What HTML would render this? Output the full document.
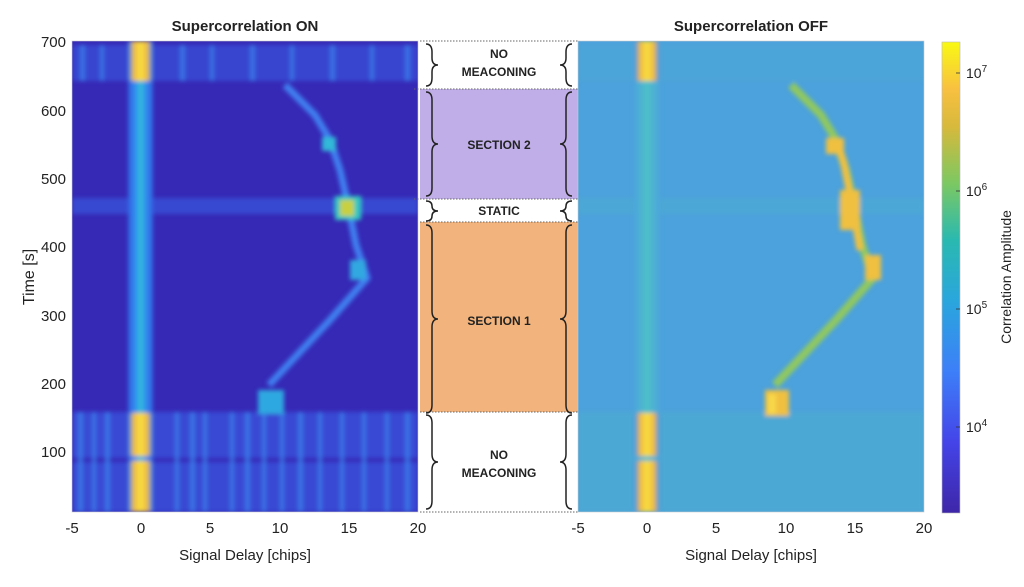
<!DOCTYPE html>
<html><head><meta charset="utf-8"><style>
html,body{margin:0;padding:0;background:#fff;}
body{width:1024px;height:582px;overflow:hidden;font-family:"Liberation Sans",sans-serif;}
</style></head><body>
<svg width="1024" height="582" viewBox="0 0 1024 582" xmlns="http://www.w3.org/2000/svg">
<defs>
<filter id="b" x="-10%" y="-10%" width="120%" height="120%"><feGaussianBlur stdDeviation="2.2"/></filter>
<linearGradient id="par" x1="0" y1="1" x2="0" y2="0">
<stop offset="0" stop-color="#3e26a8"/><stop offset="0.15" stop-color="#4444e8"/><stop offset="0.3" stop-color="#3d7ff8"/>
<stop offset="0.45" stop-color="#2aa6dd"/><stop offset="0.58" stop-color="#2ab9b0"/><stop offset="0.7" stop-color="#7cc862"/>
<stop offset="0.82" stop-color="#d7b93c"/><stop offset="0.9" stop-color="#f8c040"/><stop offset="1" stop-color="#f9f914"/>
</linearGradient>
<linearGradient id="colY" x1="0" y1="0" x2="1" y2="0">
<stop offset="0" stop-color="#3f8ff0"/><stop offset="0.2" stop-color="#f0b840"/><stop offset="0.5" stop-color="#f8e040"/><stop offset="0.8" stop-color="#f0b840"/><stop offset="1" stop-color="#3f8ff0"/>
</linearGradient>
<linearGradient id="colB" x1="0" y1="0" x2="1" y2="0">
<stop offset="0" stop-color="#3560e0"/><stop offset="0.3" stop-color="#2f8ff0"/><stop offset="0.5" stop-color="#30c0d8"/><stop offset="0.7" stop-color="#2f8ff0"/><stop offset="1" stop-color="#3560e0"/>
</linearGradient>
<linearGradient id="colBR" x1="0" y1="0" x2="1" y2="0">
<stop offset="0" stop-color="#4ca4dc"/><stop offset="0.5" stop-color="#4ec0c8"/><stop offset="1" stop-color="#4ca4dc"/>
</linearGradient>
<clipPath id="cl"><rect x="72" y="41" width="346" height="471"/></clipPath>
<clipPath id="cr"><rect x="578" y="41" width="346" height="471"/></clipPath>
</defs>

<g clip-path="url(#cl)">
<rect x="72" y="41" width="346" height="471" fill="#3629b6"/>
<g filter="url(#b)">
<rect x="72" y="45" width="346" height="36" fill="#3a4cd6" opacity="0.8"/>
<rect x="72" y="412" width="346" height="46" fill="#3a50d8" opacity="0.85"/>
<rect x="72" y="462" width="346" height="50" fill="#3a50d8" opacity="0.85"/>
<rect x="72" y="198" width="346" height="16" fill="#3a52d8" opacity="0.8"/>
<g fill="#3a86f0" opacity="0.7">
<rect x="78" y="412" width="5" height="100"/><rect x="92" y="412" width="4" height="100"/><rect x="105" y="412" width="5" height="100"/>
<rect x="175" y="412" width="4" height="100"/><rect x="190" y="412" width="5" height="100"/><rect x="203" y="412" width="4" height="100"/>
<rect x="230" y="412" width="4" height="100"/><rect x="245" y="412" width="5" height="100"/><rect x="262" y="412" width="4" height="100"/>
<rect x="280" y="412" width="4" height="100"/><rect x="298" y="412" width="5" height="100"/><rect x="318" y="412" width="4" height="100"/>
<rect x="340" y="412" width="4" height="100"/><rect x="362" y="412" width="4" height="100"/><rect x="385" y="412" width="4" height="100"/><rect x="405" y="412" width="5" height="100"/>
<rect x="80" y="45" width="5" height="36"/><rect x="100" y="45" width="4" height="36"/><rect x="180" y="45" width="5" height="36"/>
<rect x="210" y="45" width="4" height="36"/><rect x="250" y="45" width="5" height="36"/><rect x="290" y="45" width="4" height="36"/>
<rect x="330" y="45" width="5" height="36"/><rect x="370" y="45" width="4" height="36"/><rect x="405" y="45" width="5" height="36"/>
</g>
<rect x="128" y="41" width="25" height="471" fill="url(#colB)"/>
<rect x="129" y="41" width="23" height="40" fill="url(#colY)"/>
<rect x="129" y="413" width="23" height="43" fill="url(#colY)"/>
<rect x="129" y="461" width="23" height="51" fill="url(#colY)"/>
<polyline points="269,385 330,320 367,278 356,245 348,205 340,170 330,140 315,115 295,95 285,85" fill="none" stroke="#3f7ff0" stroke-width="7"/>
<rect x="335" y="196" width="26" height="24" fill="#30c8c0"/>
<rect x="340" y="200" width="14" height="16" fill="#c8d040"/>
<rect x="322" y="137" width="14" height="14" fill="#30b8d8"/>
<rect x="258" y="390" width="26" height="24" fill="#2ea8e0"/>
<rect x="350" y="260" width="16" height="20" fill="#30a8e0"/>
</g>
</g>
<rect x="72" y="41" width="346" height="471" fill="none" stroke="#ccc" stroke-width="0.6"/>

<rect x="420" y="89" width="158" height="110" fill="#c0aee8"/>
<rect x="420" y="222" width="158" height="190" fill="#f2b47c"/>
<g stroke="#666" stroke-width="1" stroke-dasharray="1.5,1.5">
<line x1="420" y1="41" x2="578" y2="41"/><line x1="414" y1="89" x2="578" y2="89"/>
<line x1="414" y1="199" x2="578" y2="199"/><line x1="420" y1="222" x2="582" y2="222"/>
<line x1="420" y1="412" x2="578" y2="412"/><line x1="420" y1="512" x2="578" y2="512"/>
</g>
<g fill="none" stroke="#222" stroke-width="1.5">
<path d="M426,44 q6,0 6,8 v6 q0,7 6,7 q-6,0 -6,7 v6 q0,8 -6,8"/>
<path d="M572,44 q-6,0 -6,8 v6 q0,7 -6,7 q6,0 6,7 v6 q0,8 6,8"/>
<path d="M426,92 q6,0 6,8 v36 q0,8 6,8 q-6,0 -6,8 v36 q0,8 -6,8"/>
<path d="M572,92 q-6,0 -6,8 v36 q0,8 -6,8 q6,0 6,8 v36 q0,8 6,8"/>
<path d="M426,201 q6,0 6,5 q0,5 6,5 q-6,0 -6,5 q0,5 -6,5"/>
<path d="M572,201 q-6,0 -6,5 q0,5 -6,5 q6,0 6,5 q0,5 6,5"/>
<path d="M426,225 q6,0 6,8 v78 q0,8 6,8 q-6,0 -6,8 v78 q0,8 -6,8"/>
<path d="M572,225 q-6,0 -6,8 v78 q0,8 -6,8 q6,0 6,8 v78 q0,8 6,8"/>
<path d="M426,415 q6,0 6,8 v31 q0,8 6,8 q-6,0 -6,8 v31 q0,8 -6,8"/>
<path d="M572,415 q-6,0 -6,8 v31 q0,8 -6,8 q6,0 6,8 v31 q0,8 6,8"/>
</g>
<g font-family="Liberation Sans,sans-serif" font-weight="bold" font-size="12" fill="#222" text-anchor="middle">
<text x="499" y="58">NO</text><text x="499" y="76">MEACONING</text>
<text x="499" y="149">SECTION 2</text>
<text x="499" y="215">STATIC</text>
<text x="499" y="325">SECTION 1</text>
<text x="499" y="459">NO</text><text x="499" y="477">MEACONING</text>
</g>

<g clip-path="url(#cr)">
<rect x="578" y="41" width="346" height="471" fill="#4ca2dc"/>
<g filter="url(#b)">
<rect x="578" y="412" width="346" height="100" fill="#4daad0" opacity="0.7"/>
<rect x="578" y="198" width="346" height="16" fill="#4daad0" opacity="0.6"/>
<rect x="578" y="45" width="346" height="36" fill="#4ca6d6" opacity="0.6"/>
<rect x="634" y="41" width="26" height="471" fill="url(#colBR)"/>
<rect x="635" y="41" width="24" height="40" fill="url(#colY)"/>
<rect x="635" y="413" width="24" height="43" fill="url(#colY)"/>
<rect x="635" y="461" width="24" height="51" fill="url(#colY)"/>
<polyline points="775,385 836,320 873,278 862,245 854,205 846,170 836,140 821,115 801,95 791,85" fill="none" stroke="#90c860" stroke-width="8"/>
<polyline points="860,250 852,205 843,160 836,140" fill="none" stroke="#f0c040" stroke-width="7"/>
<rect x="840" y="190" width="20" height="40" fill="#f0c040"/>
<rect x="865" y="255" width="16" height="25" fill="#f0c040"/>
<rect x="826" y="138" width="18" height="16" fill="#f0c040"/>
<rect x="765" y="390" width="24" height="26" fill="#f0c040"/>
<rect x="768" y="394" width="8" height="20" fill="#f8d848"/>
</g>
</g>
<rect x="578" y="41" width="346" height="471" fill="none" stroke="#ccc" stroke-width="0.6"/>

<rect x="942" y="42" width="18" height="471" fill="url(#par)" stroke="#bbb" stroke-width="0.6"/>
<g stroke="#333" stroke-width="0.8">
<line x1="956" y1="73" x2="960" y2="73"/><line x1="956" y1="191" x2="960" y2="191"/>
<line x1="956" y1="309" x2="960" y2="309"/><line x1="956" y1="427" x2="960" y2="427"/>
</g>
<g font-family="Liberation Sans,sans-serif" font-size="14" fill="#222">
<text x="966" y="78">10<tspan font-size="10" dy="-6">7</tspan></text>
<text x="966" y="196">10<tspan font-size="10" dy="-6">6</tspan></text>
<text x="966" y="314">10<tspan font-size="10" dy="-6">5</tspan></text>
<text x="966" y="432">10<tspan font-size="10" dy="-6">4</tspan></text>
<text transform="translate(1011,277) rotate(-90)" text-anchor="middle" font-size="14">Correlation Amplitude</text>
</g>

<g font-family="Liberation Sans,sans-serif" font-size="15" fill="#222">
<g text-anchor="end">
<text x="66" y="47">700</text><text x="66" y="116">600</text><text x="66" y="184">500</text>
<text x="66" y="252">400</text><text x="66" y="321">300</text><text x="66" y="389">200</text><text x="66" y="457">100</text>
</g>
<g text-anchor="middle">
<text x="72" y="533">-5</text><text x="141" y="533">0</text><text x="210" y="533">5</text><text x="280" y="533">10</text><text x="349" y="533">15</text><text x="418" y="533">20</text>
<text x="578" y="533">-5</text><text x="647" y="533">0</text><text x="716" y="533">5</text><text x="786" y="533">10</text><text x="855" y="533">15</text><text x="924" y="533">20</text>
<text x="245" y="560">Signal Delay [chips]</text>
<text x="751" y="560">Signal Delay [chips]</text>
<text transform="translate(34,277) rotate(-90)" font-size="16">Time [s]</text>
</g>
<g text-anchor="middle" font-weight="bold">
<text x="245" y="31">Supercorrelation ON</text>
<text x="751" y="31">Supercorrelation OFF</text>
</g>
</g>
</svg>
</body></html>
